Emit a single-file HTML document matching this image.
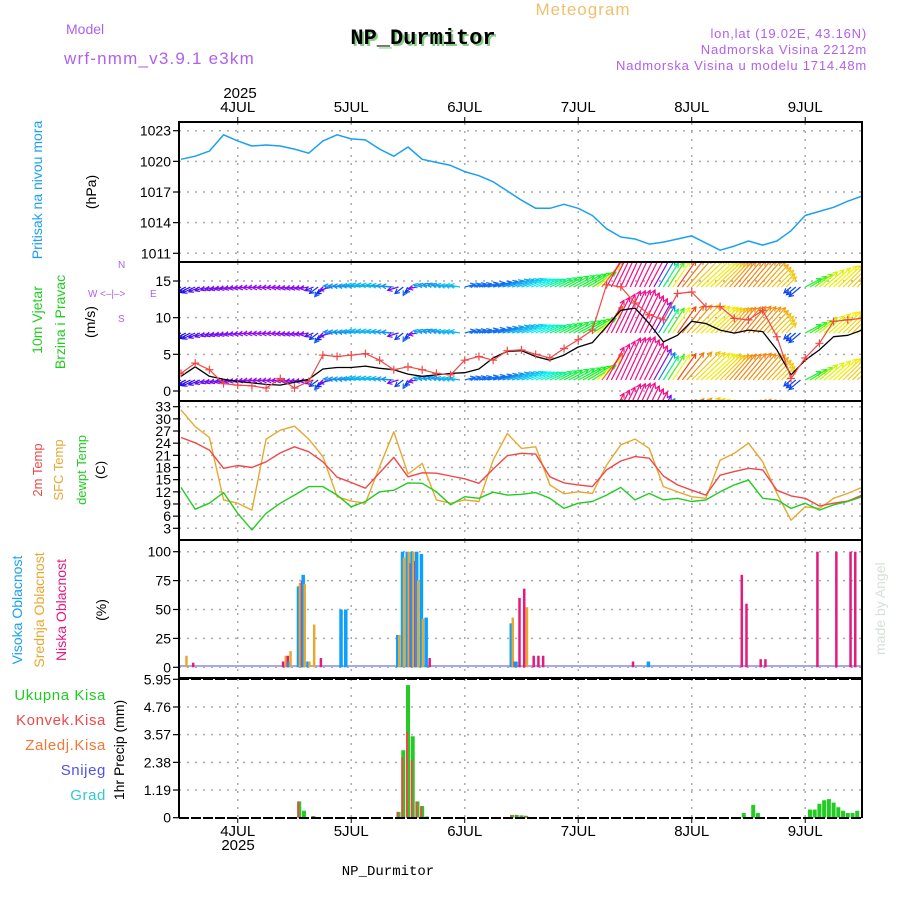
<!DOCTYPE html>
<html><head><meta charset="utf-8">
<style>
html,body{margin:0;padding:0;background:#fff;}
svg{display:block;font-family:"Liberation Sans",sans-serif;}
</style></head>
<body>
<svg id="chart" width="900" height="900" viewBox="0 0 900 900">
<rect width="900" height="900" fill="#fff"/>
<text x="66" y="34" font-size="14" fill="#b060ee">Model</text>
<text x="64" y="64" font-size="17" fill="#b060ee" letter-spacing="1.2">wrf-nmm_v3.9.1 e3km</text>
<text x="423" y="44" font-size="22" font-weight="bold" text-anchor="middle" fill="#8c8" transform="translate(2,2)" font-family="Liberation Mono, monospace">NP_Durmitor</text>
<text x="423" y="44" font-size="22" font-weight="bold" text-anchor="middle" fill="#000" font-family="Liberation Mono, monospace">NP_Durmitor</text>
<text x="583" y="15" font-size="17" fill="#f0c070" text-anchor="middle" letter-spacing="1">Meteogram</text>
<text x="867" y="38" font-size="13" fill="#b060ee" text-anchor="end" letter-spacing="0.8">lon,lat (19.02E, 43.16N)</text>
<text x="867" y="54" font-size="13" fill="#b060ee" text-anchor="end" letter-spacing="0.8">Nadmorska Visina 2212m</text>
<text x="867" y="70" font-size="13" fill="#b060ee" text-anchor="end" letter-spacing="0.8">Nadmorska Visina u modelu 1714.48m</text>
<text x="240" y="98" font-size="15" text-anchor="middle">2025</text>
<text x="238" y="850" font-size="15" text-anchor="middle">2025</text>
<text x="388" y="875" font-size="14" text-anchor="middle" font-family="Liberation Mono, monospace">NP_Durmitor</text>
<text transform="translate(885,655) rotate(-90)" font-size="14" fill="#d8e0d8">made by Angel</text>

<text transform="translate(42,190) rotate(-90)" font-size="14" fill="#1aa0f0" text-anchor="middle">Pritisak na nivou mora</text>
<text transform="translate(96,192) rotate(-90)" font-size="14" text-anchor="middle">(hPa)</text>
<text transform="translate(42,320) rotate(-90)" font-size="14" fill="#22cc22" text-anchor="middle">10m Vjetar</text>
<text transform="translate(65,322) rotate(-90)" font-size="14" fill="#22cc22" text-anchor="middle">Brzina i Pravac</text>
<text transform="translate(95,322) rotate(-90)" font-size="14" text-anchor="middle">(m/s)</text>
<g fill="#b060ee" font-size="10">
<text x="88" y="297">W</text><text x="150" y="297">E</text>
<text x="118" y="268">N</text><text x="118" y="322">S</text>
<text x="100" y="297">&lt;–|–&gt;</text>
</g>
<text transform="translate(42,470) rotate(-90)" font-size="13" fill="#f04848" text-anchor="middle">2m Temp</text>
<text transform="translate(63,470) rotate(-90)" font-size="13" fill="#e8a830" text-anchor="middle">SFC Temp</text>
<text transform="translate(86,470) rotate(-90)" font-size="13" fill="#22cc22" text-anchor="middle">dewpt Temp</text>
<text transform="translate(105,470) rotate(-90)" font-size="13" text-anchor="middle">(C)</text>
<text transform="translate(22,610) rotate(-90)" font-size="14" fill="#1aa0f0" text-anchor="middle">Visoka Oblacnost</text>
<text transform="translate(44,610) rotate(-90)" font-size="14" fill="#e8a830" text-anchor="middle">Srednja Oblacnost</text>
<text transform="translate(66,610) rotate(-90)" font-size="14" fill="#e6197f" text-anchor="middle">Niska Oblacnost</text>
<text transform="translate(106,610) rotate(-90)" font-size="14" text-anchor="middle">(%)</text>
<g font-size="15" text-anchor="end" letter-spacing="0.6">
<text x="106" y="700" fill="#22cc22">Ukupna Kisa</text>
<text x="106" y="725" fill="#f04848">Konvek.Kisa</text>
<text x="106" y="750" fill="#f07838">Zaledj.Kisa</text>
<text x="106" y="775" fill="#5050f0">Snijeg</text>
<text x="106" y="800" fill="#30c8d0">Grad</text>
</g>
<text transform="translate(124,750) rotate(-90)" font-size="14" text-anchor="middle">1hr Precip (mm)</text>
<g id="layer"></g>
</svg>
<script>
const dayLabels = ["4JUL","5JUL","6JUL","7JUL","8JUL","9JUL"];
const dayHours = [12,36,60,84,108,132];
const pressure = [1020.2,1020.5,1021,1022.6,1022,1021.5,1021.6,1021.5,1021.2,1020.8,1022,1022.6,1022.2,1022.1,1021.2,1020.5,1021.4,1020.2,1019.9,1019.6,1019,1018.6,1018,1017.1,1016.2,1015.4,1015.4,1015.8,1015.4,1014.7,1013.4,1012.6,1012.4,1011.9,1012.1,1012.4,1012.7,1012,1011.3,1011.7,1012.2,1011.8,1012.2,1013.2,1014.7,1015.1,1015.5,1016.1,1016.6];
const windSpeed = [2,3.3,2,1.6,1.3,1.1,0.9,0.8,1.2,1.6,3,3.2,3.2,3.4,3.1,2.9,2.3,2,2.2,2.4,2.5,3,4.5,5.4,5.5,4.7,4.2,4.9,6,6.6,8.8,11,11.3,9.2,6.7,7.6,9.5,9.2,8.3,7.9,8.3,8.1,5.6,2.2,4.2,5.6,7.4,7.6,8.3];
const windGust = [2.4,3.8,2.9,1,0.8,0.7,0.4,1.7,0.4,1.3,4.9,4.7,4.9,5.1,4.2,2.9,3.3,2.9,2.4,2.2,4.2,4.7,4.2,5.5,5.6,5,4.5,5.8,7,8.3,14.5,14.2,12,10.4,9.7,13.3,13.5,11.5,11.5,9.9,9.7,11,7.4,1.7,4.5,6.5,9.5,9.7,9.9];
const windDir = [210,205,200,195,190,185,185,185,190,190,230,175,175,170,170,175,240,165,160,170,15,15,15,18,20,22,25,28,28,32,62,65,65,62,58,55,45,42,45,50,50,48,45,220,28,40,42,45,45];
const temp2m = [25.4,24.1,22.3,17.8,18.5,18,19.4,21.6,23.1,21.9,19.4,15.6,14.3,12.9,16.7,20.5,15.7,16.7,16.6,15.9,15.2,14.1,17.6,20.9,21.5,21.3,15.7,14.2,13.7,13.3,17.4,19.6,20.7,20.3,15.9,13.7,12.4,11.2,16.1,17,17.8,17.4,12.4,11,10.4,8.5,9.2,9.7,11.2];
const tempSfc = [32.2,28.1,25.4,10,9.2,7.5,25,27.2,28.2,25,20.7,10.8,9.7,9.2,18.2,26.8,16.4,19,10,9.2,10,9.6,19.8,26.4,22.7,23.1,13.7,11.5,12,11.6,18.6,23.6,25,22.7,13.3,12,10.8,10.4,19.8,21.5,24,19.4,11.6,5,8.3,7.9,10.4,11.6,13.1];
const dewpt = [13.1,7.7,9.2,11.8,6.7,2.6,6.7,9.2,11.2,13.3,13.3,11.2,8.3,9.6,12,12.4,14.2,14.1,12,8.8,10.8,10.4,11.9,11.2,11.4,11.8,10.4,7.9,9.2,9.6,11.2,13.1,10,11.6,10,10.4,9.6,10,12,13.7,14.9,10.4,10,7.9,9.2,7.5,8.8,9.6,10.8];
const cloudHour = [1,2,21,22,23,25,26,27,28,29,34,35,46,47,48,49,50,51,52,70,71,72,73,74,75,76,95,99,118,119,122,123,134,138,141,142];
const cloudHigh = [0,0,0,0,5,70,80,5,0,0,50,50,28,100,100,100,100,98,43,38,5,0,0,0,0,0,0,5,0,0,0,0,0,0,0,0];
const cloudMid  = [10,0,0,10,14,73,72,5,37,0,0,0,28,95,100,100,75,42,0,43,0,0,52,0,0,0,0,0,0,0,0,0,0,0,0,0];
const cloudLow  = [0,4,5,10,0,75,0,0,0,8,0,0,0,0,90,92,0,0,8,5,60,68,0,10,10,10,5,0,80,55,7,7,100,100,100,100];
const precipHour  = [25,26,28,46,47,48,49,50,51,52,70,71,72,73,119,121,122,133,134,135,136,137,138,139,140,141,142,143];
const precipTotal = [0.7,0.3,0.07,0.25,2.9,5.7,3.5,0.7,0.5,0.05,0.12,0.12,0.1,0.08,0.2,0.55,0.2,0.35,0.35,0.6,0.75,0.8,0.65,0.45,0.3,0.2,0.2,0.3];
const precipConv  = [0.7,0,0.07,0.25,2.6,3.7,2.5,0.7,0.5,0,0.1,0.12,0,0.08,0,0,0,0,0,0,0,0,0,0,0,0,0,0];
const presTicks = [1011,1014,1017,1020,1023];
const windTicks = [0,5,10,15];
const tempTicks = [3,6,9,12,15,18,21,24,27,30,33];
const cloudTicks = [0,25,50,75,100];
const precipTicks = [0,1.19,2.38,3.57,4.76,5.95];

const NS="http://www.w3.org/2000/svg";
const layer=document.getElementById('layer');
function el(tag,attrs,parent){const e=document.createElementNS(NS,tag);for(const k in attrs)e.setAttribute(k,attrs[k]);(parent||layer).appendChild(e);return e;}
const X0=179,X1=862;
function xh(h){return 181+h*4.729;}
function lin(v0,v1,p0,p1){return v=>p0+(v-v0)*(p1-p0)/(v1-v0);}
const yP=lin(1011,1023,253.3,130.7);
const yW=lin(0,15,391,281);
const yT=lin(3,33,528.3,406.7);
const yC=lin(0,100,667.3,551.7);
const yR=lin(0,5.95,817.7,679.3);

const defs=el('defs',{});
const pc=el('clipPath',{id:'pclip'},defs);el('rect',{x:X0,y:122,width:X1-X0,height:556},pc);

function grid(ticks,ys,top,bot,name,fmt){
  ticks.forEach(t=>{
    const y=ys(t);
    const g=el('line',{x1:X0,x2:X1,y1:y,y2:y,stroke:'#aaa','stroke-width':1.5,'stroke-dasharray':'2,6'});
    
    
    el('line',{x1:X0-6,x2:X0,y1:y,y2:y,stroke:'#000','stroke-width':1.2});
    const tx=el('text',{x:X0-8,y:y+5,'font-size':14,'text-anchor':'end'});
    tx.textContent=fmt?fmt(t):t;
    
    
  });
  dayHours.forEach(h=>{
    const l=el('line',{x1:xh(h),x2:xh(h),y1:top,y2:bot,stroke:'#aaa','stroke-width':1.5,'stroke-dasharray':'2,6'});
    
    
  });
}
grid(presTicks,yP,123,262,'pressure');
grid(windTicks,yW,263,401,'wind');
grid(tempTicks,yT,402,540,'temp');
grid(cloudTicks,yC,541,678,'cloud');
grid(precipTicks,yR,679,818,'precip',t=>t===0?'0':t.toFixed(2));

function poly(arr,ys,color,name,w){
  const pts=arr.map((v,i)=>xh(i*3).toFixed(1)+','+ys(v).toFixed(1)).join(' ');
  const p=el('polyline',{points:pts,fill:'none',stroke:color,'stroke-width':w||1.4,'stroke-linejoin':'round','clip-path':'url(#pclip)'});
  
  
  return p;
}
poly(pressure,yP,'#1aa0f0','pressure-line',1.5);

const clip=el('clipPath',{id:'wclip'},defs);el('rect',{x:X0,y:263,width:X1-X0,height:138},clip);
const wg=el('g',{'clip-path':'url(#wclip)'});


const hueTable=[[0,225],[15,215],[20,190],[28,130],[35,95],[42,60],[48,38],[55,15],[62,330],[90,300],[160,205],[170,195],[175,205],[185,275],[200,265],[210,235],[225,220],[240,215],[360,225]];
function hueOf(d){for(let i=1;i<hueTable.length;i++){if(d<=hueTable[i][0]){const a=hueTable[i-1],b=hueTable[i];return a[1]+(d-a[0])*(b[1]-a[1])/(b[0]-a[0]);}}return 225;}
const rowBase=[287,333,380,426];
for(let h=0;h<=144;h++){
  const i=Math.min(47,Math.floor(h/3)),f=(h-i*3)/3;
  const d=windDir[i]+(windDir[i+1]-windDir[i])*(Math.abs(windDir[i+1]-windDir[i])>90?0:f);
  const s=windSpeed[i]+(windSpeed[i+1]-windSpeed[i])*f;
  const L=Math.max(9,s*4.2),a=d*Math.PI/180,col='hsl('+hueOf(d)+',90%,50%)';
  const x=xh(h);
  rowBase.forEach(y0=>{
    const x2=x+L*Math.cos(a),y2=y0-L*Math.sin(a);
    el('line',{x1:x,y1:y0,x2:x2,y2:y2,stroke:col,'stroke-width':1.2},wg);
    const b1=a+Math.PI-0.5,b2=a+Math.PI+0.5;
    el('polyline',{points:(x2+5*Math.cos(b1))+','+(y2-5*Math.sin(b1))+' '+x2+','+y2+' '+(x2+5*Math.cos(b2))+','+(y2-5*Math.sin(b2)),fill:'none',stroke:col,'stroke-width':1.2},wg);
  });
}
poly(windSpeed,yW,'#000','wind-speed-line',1.3);
poly(windGust,yW,'#f04848','wind-gust-line',1.2);
windGust.forEach((v,i)=>{
  const x=xh(i*3),y=yW(v);
  const m=el('path',{d:`M${x-4},${y}H${x+4}M${x},${y-4}V${y+4}`,stroke:'#f04848','stroke-width':1.2,'clip-path':'url(#pclip)'});
  
  
});

poly(tempSfc,yT,'#e8a830','sfc-temp-line',1.4);
poly(temp2m,yT,'#f04848','temp-2m-line',1.4);
poly(dewpt,yT,'#22cc22','dewpt-line',1.4);

el('line',{x1:X0,x2:X1,y1:666,y2:666,stroke:'#a8a8f0','stroke-width':2});
cloudHour.forEach((h,i)=>{
  const x=xh(h);
  [[cloudHigh[i],'#0aa0ff',-2.5,'high-cloud-bar'],[cloudMid[i],'#e8a830',-0.5,'mid-cloud-bar'],[cloudLow[i],'#e6197f',1.5,'low-cloud-bar']].forEach(s=>{
    if(s[0]<=0)return;
    const r=el('rect',{x:x+s[2],y:yC(s[0]),width:s[1]==='#0aa0ff'?3.5:2.5,height:yC(0)-yC(s[0]),fill:s[1]});
    
    
  });
});

precipHour.forEach((h,i)=>{
  const x=xh(h);
  const g=el('rect',{x:x-2,y:yR(precipTotal[i]),width:4,height:yR(0)-yR(precipTotal[i]),fill:'#22cc22'});
  
  
  if(precipConv[i]>0){
    const r=el('rect',{x:x-2,y:yR(precipConv[i]),width:2,height:yR(0)-yR(precipConv[i]),fill:'#f04848'});
    
    
  }
});

[[122,262],[262,401],[401,540],[540,678]].forEach(p=>{
  const r=el('rect',{x:X0,y:p[0],width:X1-X0,height:p[1]-p[0],fill:'none',stroke:'#000','stroke-width':2});
  
  
});
el('line',{x1:X0,x2:X0,y1:678,y2:818,stroke:'#000','stroke-width':2});
el('line',{x1:X1,x2:X1,y1:678,y2:818,stroke:'#000','stroke-width':2});
el('line',{x1:X0,x2:X1,y1:679,y2:679,stroke:'#000','stroke-width':2,'stroke-dasharray':'10,2'});
el('line',{x1:X0,x2:X1,y1:818,y2:818,stroke:'#000','stroke-width':2,'stroke-dasharray':'10,2'});
dayHours.forEach((h,i)=>{
  const x=xh(h);
  el('line',{x1:x,x2:x,y1:117,y2:122,stroke:'#000'});
  el('line',{x1:x,x2:x,y1:818,y2:823,stroke:'#000'});
  const t=el('text',{x:x,y:112,'font-size':15,'text-anchor':'middle'});t.textContent=dayLabels[i];
  
  
  const b=el('text',{x:x,y:836,'font-size':15,'text-anchor':'middle'});b.textContent=dayLabels[i];
  
  
});
</script>
</body></html>
